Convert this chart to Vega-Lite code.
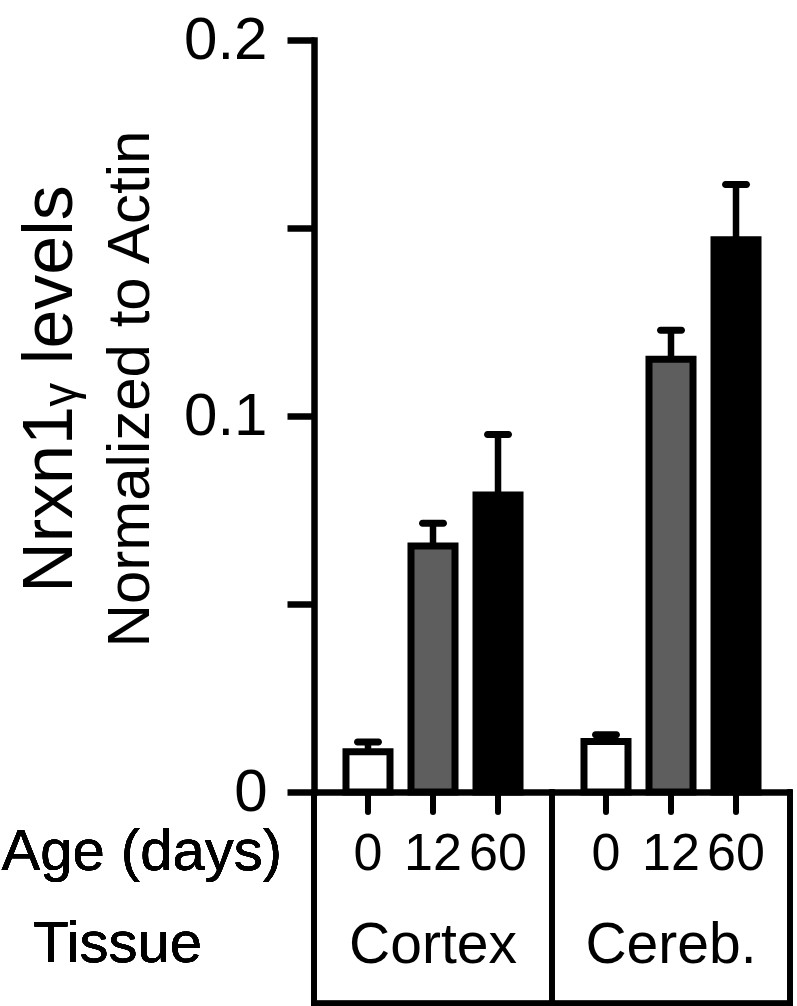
{
  "$schema": "https://vega.github.io/schema/vega-lite/v6.json",
  "width": 476,
  "height": 752,
  "autosize": {"type": "none"},
  "padding": {"left": 314, "top": 40, "right": 7, "bottom": 214},
  "background": "white",
  "config": {"view": {"stroke": null}, "font": "Liberation Sans, DejaVu Sans"},
  "title": {
    "text": "Nrxn1ᵧ levels",
    "subtitle": "Normalized to Actin",
    "orient": "left",
    "anchor": "middle",
    "font": "Liberation Sans, DejaVu Sans",
    "subtitleFont": "Liberation Sans, DejaVu Sans",
    "fontSize": 70,
    "subtitleFontSize": 60,
    "fontWeight": "normal",
    "color": "black",
    "subtitleColor": "black",
    "offset": -160,
    "subtitlePadding": 15,
    "dx": 27
  },
  "data": {
    "values": [
      {"tissue": "Cortex", "age": "0", "value": 0.0107, "upper": 0.0133},
      {"tissue": "Cortex", "age": "12", "value": 0.0654, "upper": 0.0715},
      {"tissue": "Cortex", "age": "60", "value": 0.0790, "upper": 0.0951},
      {"tissue": "Cereb.", "age": "0", "value": 0.0134, "upper": 0.0152},
      {"tissue": "Cereb.", "age": "12", "value": 0.1151, "upper": 0.1228},
      {"tissue": "Cereb.", "age": "60", "value": 0.1469, "upper": 0.1616}
    ]
  },
  "layer": [
    {
      "mark": {"type": "bar", "stroke": "black", "strokeWidth": 7},
      "encoding": {
        "x": {
          "field": "tissue",
          "type": "nominal",
          "scale": {"domain": ["Cortex", "Cereb."], "paddingInner": 0, "paddingOuter": 0},
          "axis": {
            "domain": true,
            "domainColor": "black",
            "domainWidth": 6.5,
            "ticks": false,
            "tickSize": 0,
            "bandPosition": 0.5,
            "labelAngle": 0,
            "labelAlign": "center",
            "labelFontSize": 57,
            "labelColor": "black",
            "labelPadding": 170,
            "labelBaseline": "alphabetic",
            "labelLimit": 0,
            "title": null
          }
        },
        "xOffset": {
          "field": "age",
          "type": "nominal",
          "scale": {"domain": ["0", "12", "60"], "paddingInner": 0.323, "paddingOuter": 0.492}
        },
        "y": {
          "field": "value",
          "type": "quantitative",
          "scale": {"domain": [0, 0.2], "nice": false},
          "axis": {
            "values": [0, 0.05, 0.1, 0.15, 0.2],
            "labelExpr": "datum.value < 0.001 ? '0' : abs(datum.value - 0.1) < 0.001 ? '0.1' : abs(datum.value - 0.2) < 0.001 ? '0.2' : ''",
            "grid": false,
            "title": null,
            "domainColor": "black",
            "domainWidth": 6.5,
            "domainCap": "square",
            "tickColor": "black",
            "tickWidth": 6.5,
            "tickSize": 27,
            "labelPadding": 20,
            "labelFontSize": 60,
            "labelColor": "black"
          }
        },
        "color": {
          "field": "age",
          "type": "nominal",
          "scale": {"domain": ["0", "12", "60"], "range": ["#ffffff", "#5e5e5e", "#000000"]},
          "legend": null
        }
      }
    },
    {
      "mark": {"type": "rule", "color": "black", "strokeWidth": 5, "strokeCap": "square"},
      "encoding": {
        "x": {"datum": "Cortex", "type": "nominal", "bandPosition": 0},
        "y": {"datum": 0},
        "y2": {"datum": -0.05618}
      }
    },
    {
      "mark": {"type": "rule", "color": "black", "strokeWidth": 5, "strokeCap": "square"},
      "encoding": {
        "x": {"datum": "Cereb.", "type": "nominal", "bandPosition": 0},
        "y": {"datum": 0},
        "y2": {"datum": -0.05618}
      }
    },
    {
      "mark": {"type": "rule", "color": "black", "strokeWidth": 5, "strokeCap": "square"},
      "encoding": {
        "x": {"datum": "Cereb.", "type": "nominal", "bandPosition": 1},
        "y": {"datum": 0},
        "y2": {"datum": -0.05618}
      }
    },
    {
      "mark": {"type": "rule", "color": "black", "strokeWidth": 5, "strokeCap": "square"},
      "encoding": {
        "y": {"datum": -0.05618}
      }
    },
    {
      "mark": {"type": "rule", "color": "black", "strokeWidth": 6, "strokeCap": "round"},
      "encoding": {
        "x": {"field": "tissue", "type": "nominal"},
        "xOffset": {"field": "age", "type": "nominal"},
        "y": {"datum": 0},
        "y2": {"datum": -0.0053}
      }
    },
    {
      "mark": {"type": "rule", "color": "black", "strokeWidth": 6.5},
      "encoding": {
        "x": {"field": "tissue", "type": "nominal"},
        "xOffset": {"field": "age", "type": "nominal"},
        "y": {"field": "value", "type": "quantitative"},
        "y2": {"field": "upper"}
      }
    },
    {
      "mark": {"type": "tick", "color": "black", "size": 28, "thickness": 7, "cornerRadius": 3.5, "opacity": 1},
      "encoding": {
        "x": {"field": "tissue", "type": "nominal"},
        "xOffset": {"field": "age", "type": "nominal"},
        "y": {"field": "upper", "type": "quantitative"}
      }
    },
    {
      "mark": {"type": "text", "fontSize": 52, "color": "black", "baseline": "alphabetic", "align": "center"},
      "encoding": {
        "x": {"field": "tissue", "type": "nominal"},
        "xOffset": {"field": "age", "type": "nominal"},
        "y": {"datum": -0.02077},
        "text": {"field": "age"}
      }
    },
    {
      "mark": {"type": "text", "fontSize": 58, "color": "black", "baseline": "alphabetic", "align": "right", "dx": -32, "text": "Age (days)"},
      "encoding": {
        "x": {"datum": "Cortex", "type": "nominal", "bandPosition": 0},
        "y": {"datum": -0.02077}
      }
    },
    {
      "mark": {"type": "text", "fontSize": 58, "color": "black", "baseline": "alphabetic", "align": "right", "dx": -112, "text": "Tissue"},
      "encoding": {
        "x": {"datum": "Cortex", "type": "nominal", "bandPosition": 0},
        "y": {"datum": -0.04526}
      }
    }
  ]
}
